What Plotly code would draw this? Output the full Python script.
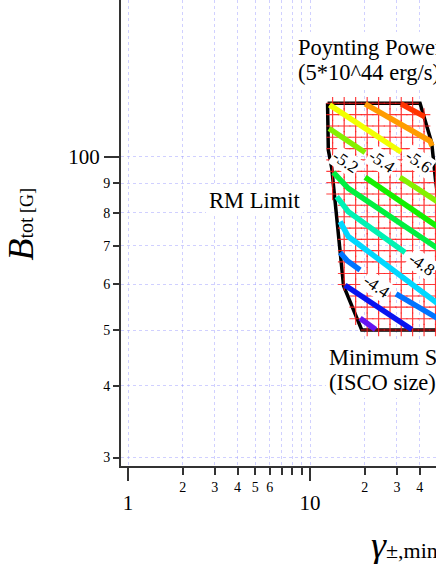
import numpy as np
import plotly.graph_objects as go

FONT = "Liberation Serif, Times New Roman, serif"

# ---------------- axes ----------------
x_range = [0.915, 49.2]
y_range = [29.0, 187.5]
x_major = [1, 10]
x_major_text = ["1", "10"]
x_minor = [2, 3, 4, 5, 6, 7, 8, 9, 20, 30, 40, 50, 60, 70, 80, 90]
x_minor_text = ["2", "3", "4", "5", "6", "", "", "", "2", "3", "4", "5", "6", "", "", ""]
y_major = [100]
y_major_text = ["100"]
y_minor = [30, 40, 50, 60, 70, 80, 90]
y_minor_text = ["3", "4", "5", "6", "7", "8", "9"]

# ---------------- allowed region (outline) ----------------
region_gamma = [12.48, 40.2, 46.6, 48.9, 55.2, 58.8, 19.23, 15.28, 13.16, 12.6, 12.48]
region_B = [124.0, 124.0, 105.8, 91.2, 68.9, 50.0, 50.0, 59.7, 95.6, 102.8, 124.0]

# sampling grid of the model matrix
grid_gamma = [13.3, 15.4, 17.8, 20.6, 23.8, 27.5, 31.7, 36.6, 42.3, 48.9, 56.5]
grid_B = [50.0, 52.3, 54.8, 57.3, 60.0, 62.7, 65.7, 68.7, 71.9, 75.2, 78.7,
          82.4, 86.2, 90.2, 94.4, 98.8, 103.4, 108.2, 113.2, 118.5, 124.0]

# ---------------- contours ----------------
contour_levels = [-6.0, -5.8, -5.6, -5.4, -5.2, -5.0, -4.8, -4.6, -4.4, -4.2, -4.0]
contour_colors = ["#FF3300", "#FF9C00", "#F2FF00", "#84F000", "#14F000", "#00F040",
                  "#00F2B4", "#00D8FF", "#0074FF", "#0814F0", "#6414F0"]
contour_gamma = [
    [31.6, 39.2, 42.8],
    [20.06, 42.3, 45.6, 46.8],
    [12.80, 31.6],
    [12.72, 20.06, None, 31.2, 51.8],
    [20.06, 51.8],
    [13.43, 16.23, 51.8],
    [14.02, 16.23, 33.27],
    [14.62, 16.23, 51.8],
    [14.62, 16.07, 18.83, None, 29.69, 51.8],
    [15.57, 36.2],
    [18.83, 22.9],
]
contour_B = [
    [123.7, 118.8, 117.4],
    [123.7, 107.5, 106.6, 104.5],
    [123.2, 102.0],
    [112.1, 101.8, None, 92.2, 83.0],
    [92.2, 75.1],
    [93.98, 88.2, 68.9],
    [85.3, 80.3, 68.2],
    [77.2, 72.7, 55.2],
    [68.2, 65.9, 63.6, None, 57.8, 52.1],
    [59.8, 50.1],
    [52.4, 50.1],
]

label_text = ["-5.2", "-5.4", "-5.6", "-4.8", "-4.4"]
label_gamma = [15.57, 24.77, 39.4, 41.1, 23.26]
label_B = [98.1, 98.1, 98.1, 64.9, 59.5]

# text notes (second lines listed first so that the first line's box sits on top)
note_text = ["(5*10^44 erg/s)", "Poynting Power", "RM Limit", "(ISCO size)", "Minimum Size"]
note_gamma = [8.27, 8.27, 2.69, 12.24, 12.24]
note_B = [140.3, 155.0, 83.9, 40.5, 44.8]

# ---------------- helpers (log space) ----------------
lpx = np.log10(region_gamma)
lpy = np.log10(region_B)


def span_at(v, a, b):
    """Intersections of line coord a == v with polygon edges; returns (min,max) of other coord."""
    lo, hi = a.min() + 1e-6, a.max() - 1e-6
    v = min(max(v, lo), hi)
    hits = []
    for i in range(len(a) - 1):
        a0, a1, b0, b1 = a[i], a[i + 1], b[i], b[i + 1]
        if a0 == a1:
            continue
        if (a0 - v) * (a1 - v) <= 0:
            t = (v - a0) / (a1 - a0)
            hits.append(b0 + t * (b1 - b0))
    if not hits:
        return None
    return min(hits), max(hits)


gl_x, gl_y = [], []
cx, cy = [], []
for B in grid_B:
    s = span_at(np.log10(B), lpy, lpx)
    if s is None:
        continue
    gl_x += [10 ** s[0], 10 ** s[1], None]
    gl_y += [B, B, None]
    for g in grid_gamma:
        lg = np.log10(g)
        if s[0] - 0.01 <= lg <= s[1] + 0.01:
            cx.append(g)
            cy.append(B)
for g in grid_gamma:
    s = span_at(np.log10(g), lpx, lpy)
    if s is None:
        continue
    gl_x += [g, g, None]
    gl_y += [10 ** s[0], 10 ** s[1], None]

fig = go.Figure()

fig.add_trace(go.Scatter(x=gl_x, y=gl_y, mode="lines",
                         line=dict(color="rgba(255,80,80,0.2)", width=1),
                         hoverinfo="skip", showlegend=False))
fig.add_trace(go.Scatter(x=region_gamma, y=region_B, mode="lines",
                         line=dict(color="black", width=3.5),
                         hoverinfo="skip", showlegend=False))
fig.add_trace(go.Scatter(x=cx, y=cy, mode="markers",
                         marker=dict(symbol="cross-thin", size=9,
                                     line=dict(color="rgba(255,30,30,0.85)", width=1.2)),
                         hoverinfo="skip", showlegend=False))
for lev, col, xs, ys in zip(contour_levels, contour_colors, contour_gamma, contour_B):
    fig.add_trace(go.Scatter(x=xs, y=ys, mode="lines", name=str(lev),
                             line=dict(color=col, width=5.5),
                             hoverinfo="skip", showlegend=False))

# dummy traces so that overlay axes are drawn
fig.add_trace(go.Scatter(x=[None], y=[None], xaxis="x2", yaxis="y", showlegend=False))
fig.add_trace(go.Scatter(x=[None], y=[None], xaxis="x", yaxis="y2", showlegend=False))

annotations = []
for t, g, b in zip(label_text, label_gamma, label_B):
    annotations.append(dict(x=np.log10(g), y=np.log10(b), xref="x", yref="y", text=t,
                            showarrow=False, textangle=34, bgcolor="white",
                            borderpad=1, borderwidth=0,
                            font=dict(family=FONT, size=17, color="black")))
for t, g, b in zip(note_text, note_gamma, note_B):
    annotations.append(dict(x=np.log10(g), y=np.log10(b), xref="x", yref="y", text=t,
                            showarrow=False, xanchor="left", yanchor="middle",
                            align="left", bgcolor="white", borderpad=3, borderwidth=0,
                            font=dict(family=FONT, size=22.5, color="black")))

# axis titles
annotations.append(dict(
    xref="paper", yref="paper", x=(20 - 121) / 315, y=1 - 223.5 / 466,
    xanchor="center", yanchor="middle", showarrow=False, textangle=-90,
    text="<span style='font-size:36px'><i>B</i></span><span style='font-size:20px'>tot</span>"
         "<span style='font-size:18px'> [G]</span>",
    font=dict(family=FONT, size=20, color="black")))
annotations.append(dict(
    xref="paper", yref="paper", x=(369 - 121) / 315, y=1 - 545 / 466,
    xanchor="left", yanchor="middle", showarrow=False,
    text="<span style='font-size:38px'><i>γ</i></span><span style='font-size:22px'>±,min</span>",
    font=dict(family=FONT, size=22, color="black")))

grid_style = dict(showgrid=True, gridcolor="rgba(150,150,255,0.45)", gridwidth=1, griddash="dot")
lx = [float(np.log10(v)) for v in x_range]
ly = [float(np.log10(v)) for v in y_range]

fig.update_layout(
    width=436, height=564,
    margin=dict(l=121, r=0, t=0, b=98, pad=0),
    paper_bgcolor="white", plot_bgcolor="white",
    showlegend=False,
    annotations=annotations,
    xaxis=dict(type="log", range=lx, tickmode="array", tickvals=x_major, ticktext=x_major_text,
               ticks="outside", ticklen=13, tickwidth=1.5, tickcolor="#333",
               showline=True, linewidth=2, linecolor="#333", zeroline=False,
               tickfont=dict(family=FONT, size=21, color="black"),
               ticklabelstandoff=4, **grid_style),
    xaxis2=dict(type="log", range=lx, overlaying="x", anchor="y", side="bottom",
                tickmode="array", tickvals=x_minor, ticktext=x_minor_text,
                ticks="outside", ticklen=8, tickwidth=1.5, tickcolor="#333",
                showline=False, zeroline=False,
                tickfont=dict(family=FONT, size=14, color="black"), **grid_style),
    yaxis=dict(type="log", range=ly, tickmode="array", tickvals=y_major, ticktext=y_major_text,
               ticks="outside", ticklen=15, tickwidth=1.5, tickcolor="#333",
               showline=True, linewidth=2, linecolor="#333", zeroline=False,
               tickfont=dict(family=FONT, size=21, color="black"), **grid_style),
    yaxis2=dict(type="log", range=ly, overlaying="y", anchor="x", side="left",
                tickmode="array", tickvals=y_minor, ticktext=y_minor_text,
                ticks="outside", ticklen=7, tickwidth=1.5, tickcolor="#333",
                showline=False, zeroline=False,
                tickfont=dict(family=FONT, size=14, color="black"), **grid_style),
)

fig.write_html("out.html", config={"displayModeBar": False},
               post_script="document.body.style.margin='0px';document.body.style.padding='0px';")
